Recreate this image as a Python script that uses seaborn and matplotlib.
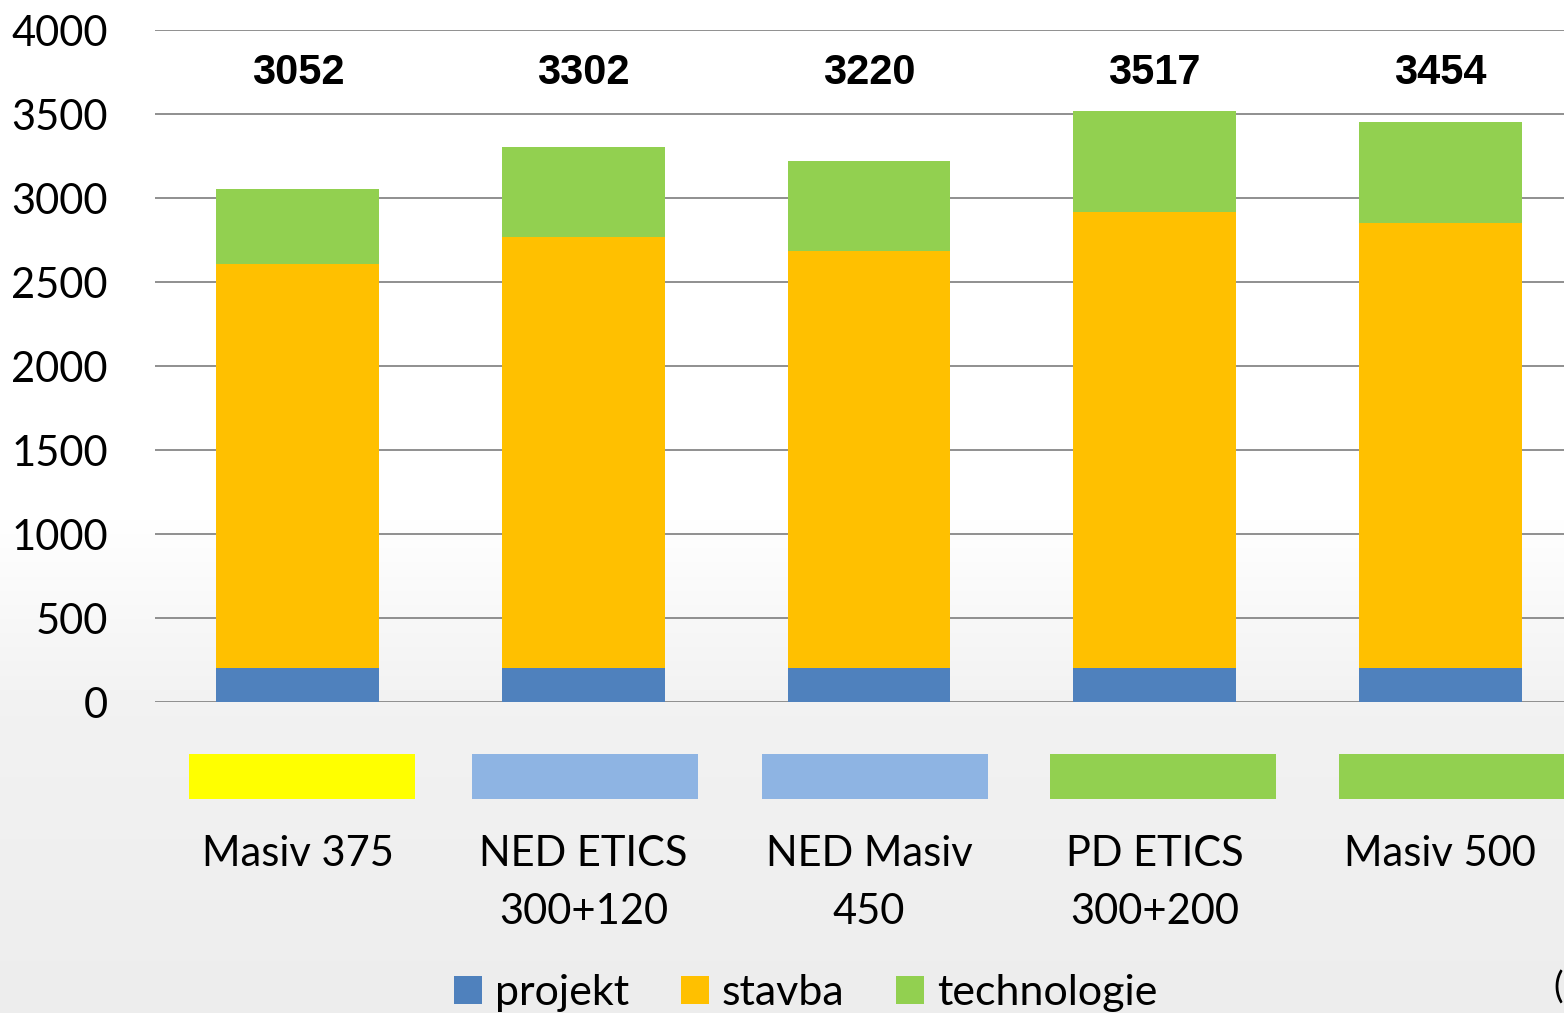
import numpy as np
import pandas as pd
import matplotlib
matplotlib.use("Agg")
import matplotlib.pyplot as plt
from matplotlib.patches import Rectangle, Patch
import seaborn as sns

categories = ["Masiv 375", "NED ETICS\n300+120", "NED Masiv\n450", "PD ETICS\n300+200", "Masiv 500"]
projekt = [200, 200, 200, 200, 200]
stavba = [2407, 2568, 2485, 2717, 2651]
technologie = [445, 534, 535, 600, 603]
marker_colors = ["#FFFF00", "#8EB4E3", "#8EB4E3", "#92D050", "#92D050"]
series_names = ["projekt", "stavba", "technologie"]
series_colors = ["#4F81BD", "#FFC000", "#92D050"]
yticks = [0, 500, 1000, 1500, 2000, 2500, 3000, 3500, 4000]

sns.set_theme(style="white")
plt.rcParams['font.family'] = ['Lato', 'DejaVu Sans']
plt.rcParams['text.color'] = 'black'
plt.rcParams['xtick.color'] = 'black'
plt.rcParams['ytick.color'] = 'black'
plt.rcParams['xtick.labelcolor'] = 'black'
plt.rcParams['ytick.labelcolor'] = 'black'

W, H = 1564, 1013
fig = plt.figure(figsize=(W / 100, H / 100), dpi=100)

# background gradient
bg = fig.add_axes([0, 0, 1, 1], zorder=-10)
ys = np.arange(H)
vals = np.interp(ys, [0, 520, 700, H], [1.0, 1.0, 0.950, 0.930])
img = np.repeat(vals[:, None], 2, axis=1)
bg.imshow(np.dstack([img, img, img]), aspect="auto", extent=[0, 1, 1, 0])
bg.set_axis_off()

ax = fig.add_axes([155 / W, 1 - 702 / H, 1428 / W, 672 / H])
ax.patch.set_alpha(0)

df = pd.DataFrame({"cat": categories, "projekt": projekt, "stavba": stavba, "technologie": technologie})
df["s2"] = df["projekt"] + df["stavba"]
df["s3"] = df["s2"] + df["technologie"]

for col, c in [("s3", series_colors[2]), ("s2", series_colors[1]), ("projekt", series_colors[0])]:
    sns.barplot(data=df, x="cat", y=col, color=c, width=0.57, ax=ax,
                saturation=1, linewidth=0, zorder=3)

ax.set_xlim(-0.5, 4.5)
ax.set_ylim(0, 4000)
ax.set_yticks(yticks)
ax.set_yticklabels([str(t) for t in yticks], fontsize=30, color="black")
ax.tick_params(axis="y", length=0, pad=34)
ax.tick_params(axis="x", length=0, pad=96)
ax.set_xticks(range(len(categories)))
ax.set_xticklabels(categories, fontsize=30, linespacing=1.62, color="black")
for lab in ax.get_xticklabels():
    lab.set_va("top")
ax.set_xlabel("")
ax.set_ylabel("")
ax.grid(axis="y", color="#878787", linewidth=1.3, zorder=0)
ax.set_axisbelow(True)
for s in ax.spines.values():
    s.set_visible(False)

# total labels
for i, tot in enumerate(df["s3"]):
    ax.text(i, 3745, f"{tot}", ha="center", va="center", fontsize=30,
            fontweight="bold", family="Liberation Sans", color="black")

# coloured marker rectangles below the axis
offsets = [0.015, 0.005, 0.02, 0.03, 0.04]
for i, c in enumerate(marker_colors):
    r = Rectangle((i + offsets[i] - 0.395, -577), 0.79, 267, facecolor=c,
                  edgecolor="none", clip_on=False, transform=ax.transData, zorder=2)
    ax.add_patch(r)

handles = [Patch(facecolor=c, edgecolor="none") for c in series_colors]
fig.legend(handles, series_names, loc="center", bbox_to_anchor=(806 / W, 1 - 993 / H),
           ncol=3, frameon=False, fontsize=31, handlelength=0.65, handleheight=0.65,
           handletextpad=0.3, columnspacing=1.2, labelcolor="black")

fig.text(1563 / W, 1 - 988 / H, "(", fontsize=26, va="center", ha="right", color="black")

fig.savefig("out.png", dpi=100)
